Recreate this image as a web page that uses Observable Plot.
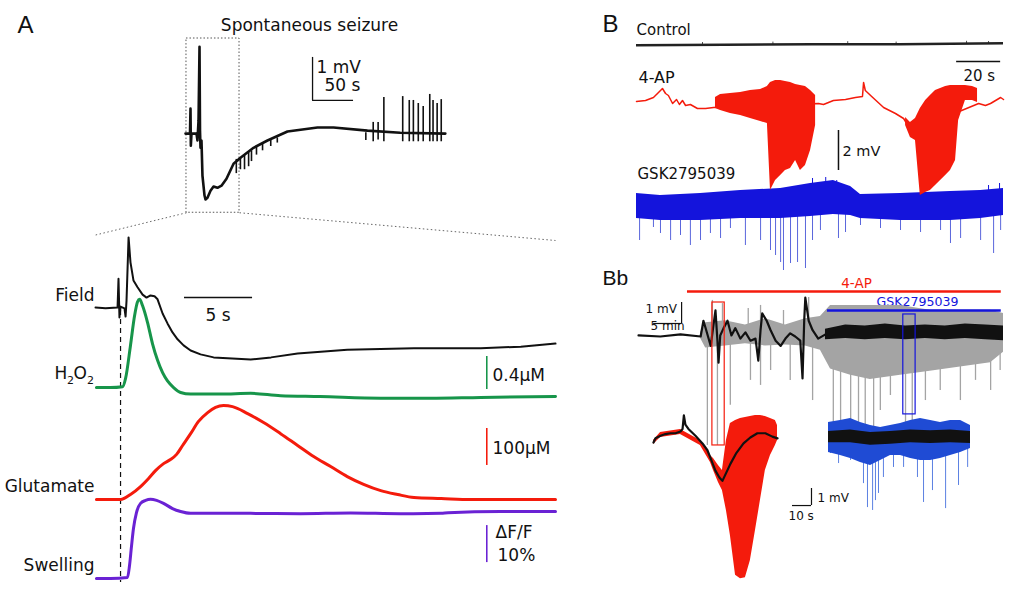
<!DOCTYPE html>
<html><head><meta charset="utf-8">
<script src="https://cdn.jsdelivr.net/npm/d3@7"></script>
<script src="https://cdn.jsdelivr.net/npm/@observablehq/plot@0.6"></script>
<style>
body{margin:0;background:#fff;}
#fig{position:relative;width:1016px;height:606px;overflow:hidden;background:#fff;}
</style></head><body><div id="fig"></div>
<script>
// ---------------- DATA ----------------
// Panel A, top: spontaneous seizure, [time s, mV]
const seizureTrace = [[0,0],[4.9,0],[5.5,0.02],[6.1,0.58],[6.5,-0.28],[7.3,0],[13.4,0],[14.6,-0.16],[15.9,0.3],[17.1,2.02],[17.7,0.07],[18.3,-0.33],[19.5,-0.16],[20.7,-0.98],[23.2,-1.44],[24.4,-1.53],[26.8,-1.49],[30.5,-1.33],[34.2,-1.23],[39,-1.26],[43.9,-1.21],[50,-1.05],[58.6,-0.70],[67.1,-0.56],[83,-0.33],[100,-0.16],[124.4,0.05],[161,0.14],[180.6,0.14],[222,0.07],[262,0.02],[317,0]];
// spikes [time s, from mV, to mV]
const seizureSpikes = [[62,-0.6,-0.93],[67,-0.56,-0.84],[72,-0.5,-0.84],[77,-0.44,-0.77],[80.5,-0.4,-0.65],[86.6,-0.3,-0.5],[94,-0.23,-0.4],[104,-0.15,-0.3],[112,-0.1,-0.22],[220,-0.16,0.02],[229,-0.19,0.26],[235,-0.15,0.26],[242,-0.19,0.84],[265,-0.19,0.86],[273,-0.19,0.77],[278,-0.19,0.77],[284,-0.19,0.70],[290,-0.19,0.63],[298,-0.19,0.91],[302,-0.19,0.77],[307,-0.19,0.70],[312,-0.19,0.79]];
const zoomWindow = {t0: 1.2, t1: 65.9, v0: -1.84, v1: 2.21};

// Panel A, expanded: [time s, value]
const fieldTrace = [[0,0],[0.74,-0.02],[1.62,0],[1.69,0.67],[1.76,-0.23],[1.84,0.02],[2.13,-0.02],[2.21,-0.21],[2.28,0.16],[2.43,1.63],[2.57,1.05],[2.79,0.63],[3.09,0.47],[3.46,0.30],[3.75,0.23],[4.04,0.28],[4.34,0.26],[4.56,0.19],[4.93,-0.14],[5.29,-0.37],[5.66,-0.58],[6.03,-0.74],[6.47,-0.88],[6.99,-1.0],[7.72,-1.09],[8.68,-1.16],[11.4,-1.21],[12.9,-1.16],[14.85,-1.07],[18.5,-0.98],[23.4,-0.95],[28.3,-0.95],[31.25,-0.91],[33.8,-0.84]]; // mV
const h2o2Trace = [[0.07,0],[1.1,0],[1.99,0.01],[2.21,0.11],[2.57,0.51],[2.87,0.87],[3.09,1.04],[3.24,1.07],[3.46,0.99],[3.82,0.79],[4.19,0.53],[4.56,0.33],[4.93,0.18],[5.29,0.08],[5.74,0],[6.25,-0.06],[6.99,-0.08],[9.19,-0.08],[11.4,-0.07],[13.6,-0.10],[16.5,-0.11],[20.96,-0.13],[24.6,-0.13],[28.3,-0.12],[33.8,-0.11]]; // µM
const glutTrace = [[0.07,0],[1.84,0],[2.57,13.5],[3.31,35],[3.9,57],[4.41,78],[5.0,97],[5.51,108],[5.96,122],[6.4,146],[6.99,178],[7.57,211],[8.24,235],[8.82,249],[9.41,254],[10.07,251],[11.18,232],[12.35,208],[13.6,178],[14.85,146],[16.03,116],[17.28,89],[18.5,62],[19.7,41],[20.96,24],[22.2,13.5],[23.4,5.4],[25.4,2.7],[27.6,0],[33.8,0]]; // µM
const swellTrace = [[0.07,0],[1.1,0],[2.35,0.27],[2.5,3.5],[2.65,8.9],[2.79,13.5],[3.01,17.8],[3.31,20.3],[3.68,21.1],[4.04,21.4],[4.49,21.1],[5.0,20.3],[5.66,18.9],[6.25,18.1],[6.99,17.6],[11.4,17.6],[15.07,17.5],[18.75,17.7],[22.4,17.5],[25.4,17.6],[25.9,17.8],[29.8,18.1],[33.8,18.1]]; // % ΔF/F
const seizureOnset = [1.84];

// Panel B: [time s, mV]
const controlBand = [[0,0,-0.12],[40,0.02,-0.1],[80,0.05,-0.07],[120,0.05,-0.07],[166.8,0.1,-0.02]];
const controlSpikes = [[30,0.1],[62,0.12],[96,0.14],[118,0.12],[150,0.16],[160,0.15]];
const fourAPTrace = [[0,0.1],[4.1,0.15],[7.7,0.3],[10,0.55],[11.8,0.75],[13.2,0.5],[14.5,0.4],[16.4,0],[18.2,0.2],[19.5,-0.05],[20.9,0.15],[22.3,-0.1],[24.5,-0.05],[27.7,-0.25],[31.4,-0.25],[35,-0.2],[82.7,0],[85,-0.05],[89.5,0.15],[95,0.2],[99.5,0.3],[102.7,0.35],[103.2,1.05],[104,0.65],[106.4,0.4],[112.3,-0.2],[117.7,-0.5],[121.4,-0.75],[124.5,-1.3],[126.8,-1.3],[155.5,0],[158.6,-0.1],[160.9,0],[163.2,0.15],[165.5,0.3],[166.8,0.2]];
const fourAPBurst1 = [[35.9,0.3,-0.25],[38.2,0.45,-0.35],[42.7,0.5,-0.5],[47.3,0.55,-0.6],[51.8,0.65,-0.75],[56.4,0.7,-0.9],[59.5,0.85,-1.0],[60.9,1.05,-4.35],[63.2,1.15,-3.85],[65.5,1.15,-3.6],[67.7,1.1,-3.35],[70,1.05,-3.25],[72.3,0.95,-2.85],[74.5,0.9,-3.35],[76.8,0.85,-3.1],[79.1,0.65,-2.35],[81.4,0.4,-1.1]];
const fourAPBurst2 = [[122.3,-0.7,-1.1],[124.5,-0.95,-1.7],[126.8,-0.75,-1.85],[129,-0.25,-4.6],[131.4,0.15,-4.45],[133.6,0.4,-4.35],[135.9,0.65,-4.1],[138.2,0.75,-3.85],[140.5,0.85,-3.6],[142.7,0.9,-3.35],[145,0.9,-2.85],[146.4,0.9,-0.85],[149.5,0.9,0.15],[152.7,0.85,0.15],[155,0.75,0.05]];
const gskBand = [[0,0.7,-0.55],[10.9,0.6,-0.65],[29.1,0.7,-0.65],[47.3,0.85,-0.55],[65.5,0.95,-0.55],[79.1,1.2,-0.45],[89.5,1.35,-0.35],[97.3,1.05,-0.4],[101.8,0.65,-0.55],[120,0.7,-0.65],[142.7,0.8,-0.65],[156.4,0.85,-0.55],[166.8,0.95,-0.4]];
const gskDownSpikes = [[1.4,-1.65],[7.7,-1.0],[10.9,-1.3],[15.5,-1.65],[20,-1.4],[24.5,-1.9],[29.1,-1.65],[33.6,-1.3],[38.2,-1.55],[42.7,-1.05],[49.5,-1.9],[56.4,-1.65],[60.9,-2.15],[63.2,-2.4],[65.5,-2.75],[66.8,-3.15],[70,-2.8],[73.2,-2.75],[76.8,-3.05],[80,-1.65],[83.6,-1.15],[91.8,-1.55],[95,-1.25],[101.8,-0.9],[110.9,-1.05],[120,-1.15],[129.1,-1.25],[138.2,-1.15],[142.7,-1.8],[147.3,-1.55],[156.4,-1.65],[162.3,-2.3],[165.5,-1.15]];
const gskUpSpikes = [[80,1.45],[86,1.5],[91,1.35],[160,1.1],[165,1.2]];

// Panel Bb: [time min, mV]
const bbTrace = [[0,0],[3.9,-0.05],[7.5,0.05],[11.1,-0.05],[11.6,0.7],[12.1,0.25],[12.9,-0.5],[13.4,0.5],[13.75,1.2],[14.1,-0.25],[14.3,-1.3],[14.6,0],[15.2,0.35],[15.9,0.7],[16.6,0],[17.3,0.35],[18.2,-0.15],[19.1,0.15],[20,-0.25],[20.9,-0.15],[21.4,-1.2],[21.8,0.25],[22.1,1.05],[22.9,0.7],[23.6,0.25],[24.5,-0.25],[25.4,-0.5],[26.25,-0.15],[27.1,0.1],[28,-0.05],[28.9,-0.25],[29.3,-2.05],[29.6,0.7],[29.8,1.8],[30.4,0.7],[31.1,0.25],[32.1,-0.15],[33.4,0.05]];
const bbBand = [[33.4,0.3,-0.2],[37,0.5,-0.15],[40.5,0.45,-0.2],[44.1,0.55,-0.15],[47.7,0.45,-0.2],[51.25,0.5,-0.15],[54.8,0.45,-0.2],[58.4,0.55,-0.15],[62,0.5,-0.2],[65.2,0.45,-0.25]];
const bbGrayBand = [[11.1,0.14,-0.14],[12,0.6,-0.6],[15.5,0.7,-0.5],[19.1,0.5,-0.4],[22.7,0.8,-0.5],[26.25,0.5,-0.45],[29.8,0.8,-0.5],[32.5,0.9,-0.7],[34.3,1.43,-1.6],[37.9,1.43,-1.9],[41.4,1.43,-2.1],[46.8,1.43,-1.9],[52.1,1.2,-1.7],[57.5,1.2,-1.5],[62.9,1.2,-1.3],[65.2,1.05,-0.8]];
const bbGrayDown = [[12.3,-5.24],[14.1,-5.24],[16.4,-3.33],[20,-2.14],[21.8,-2.38],[23.6,-1.67],[27.1,-2.14],[31.1,-3.1],[34.8,-5.0],[36.1,-4.52],[37.9,-4.05],[39.3,-5.24],[40.5,-4.52],[42,-5.0],[43.2,-3.57],[45,-2.86],[47.7,-5.24],[48.9,-5.0],[51.25,-3.1],[53.9,-2.62],[57.5,-3.1],[60.2,-2.14],[62.9,-2.62],[64.6,-1.67]];
const bbGrayUp = [[13.2,1.67],[15,1.52],[19.6,1.29],[21.8,1.43],[25.9,1.19],[30.4,1.81]];
const bbDrugs = [{name:"4-AP", start:8.75, end:64.8, level:2.1}, {name:"GSK2795039", start:33.75, end:64.8, level:1.19}];
const bbWindows = [{drug:"4-AP", t0:13.2, t1:15.4, v0:-5.24, v1:1.57}, {drug:"GSK2795039", t0:47.3, t1:49.5, v0:-3.76, v1:1.0}];

// Bb insets: [time s, mV]
const redInsetBand = [[0,-0.18,-0.41],[3.7,0.29,0],[14.2,0.47,0.18],[24.7,-0.18,-0.47],[30,-1.06,-1.47],[31.6,-1.24,-1.94],[34.2,-1.65,-2.65],[36.3,-1.94,-3.12],[38.4,-0.18,-4.29],[40.5,0.82,-5.76],[43.2,1.0,-8.1],[45.8,1.12,-8.3],[48.4,1.18,-8.24],[51,1.24,-7.24],[53.7,1.29,-5.47],[56.3,1.29,-3.71],[58.9,1.24,-1.94],[61.6,1.12,-1.06],[64.2,1.0,-0.47],[65.3,0.71,-0.18]];
const redInsetMean = [[0,-0.3],[1.05,-0.05],[3.7,0.1],[6.3,0.2],[8.9,0.25],[11.6,0.25],[14.2,0.35],[15.3,0.5],[16,1.3],[16.8,0.75],[18.4,0.5],[22.1,0.1],[25.8,-0.35],[28.4,-0.75],[30.5,-1.35],[32.6,-1.95],[34.7,-2.35],[36.3,-2.55],[38.4,-2.05],[40.5,-1.55],[43.7,-0.9],[47.4,-0.35],[51,0],[54.7,0.25],[58.9,0.25],[62.6,0.05],[65.3,-0.05]];
const blueInsetBand = [[0,0.88,-0.88],[6.3,1.0,-1.06],[11.6,1.12,-1.24],[16.8,0.88,-1.47],[22.1,0.71,-1.65],[27.4,0.59,-1.35],[32.6,0.71,-1.06],[37.9,0.82,-1.06],[43.2,1.0,-1.24],[48.4,1.12,-1.35],[53.7,1.0,-1.35],[58.9,0.88,-1.24],[64.2,1.0,-1.06],[69.5,1.0,-0.88],[74.7,0.71,-0.65]];
const blueInsetSpikes = [[1.05,-0.94],[5.3,-1.53],[11.6,-1.35],[18.4,-2.71],[20.5,-4.12],[23.2,-4.29],[24.7,-3.71],[26.3,-3.29],[28.9,-2.35],[34.2,-1.76],[39.5,-1.76],[46.8,-2.35],[50,-3.82],[54.7,-3.12],[61.6,-4.18],[68.4,-2.82],[73.2,-1.76]];
const blueInsetMean = [[0,0.35,-0.3],[11.6,0.45,-0.3],[22.1,0.3,-0.45],[32.6,0.35,-0.4],[43.2,0.45,-0.3],[53.7,0.4,-0.35],[64.2,0.45,-0.3],[74.7,0.35,-0.35]];

// scale bars, in each trace's units
const scaleTop = {t: 155, dt: 50, v: 0.77, dv: 1};
const scaleField = {t: 6.54, dt: 5, v: 0.23};
const scaleH2O2 = {t: 28.75, v: -0.024, dv: 0.4};
const scaleGlut = {t: 28.75, v: 92, dv: 100};
const scaleSwell = {t: 28.75, v: 4.3, dv: 10};
const scaleB = {t20: 145.5, dt: 20, v20: 2.1, t2: 91.8, v2: -3.35, dv: 2};
const scaleBb = {t: 2.7, dt: 5, v: 0.57, dv: 1};
const scaleInset = {t: 73.2, dt: 10, v: -4.0, dv: 1};

// ---------------- STYLE / LAYOUT ----------------
const W = 1016, H = 606;
const FONT = "DejaVu Sans, Liberation Sans, sans-serif";
const NARROW = "Liberation Sans Narrow, Liberation Sans, Arial, sans-serif";
const INK = "#111", RED = "#f41b0c", GREEN = "#17954a", PURPLE = "#6a22d4",
      BLUE = "#1414dc", BLUE_L = "#5a66dc", IBLUE = "#1f4bd4", IBLUE_L = "#5b80e2", GRAY = "#a4a4a4";

const fig = document.getElementById("fig");
function panel(L, marks) {
  const p = Plot.plot({
    width: L.w, height: L.h, margin: 0,
    x: {domain: L.x, axis: null}, y: {domain: L.y, axis: null},
    style: `position:absolute;left:${L.left}px;top:${L.top}px;background:transparent;overflow:visible;max-width:none;`,
    marks
  });
  fig.appendChild(p);
  return p;
}
const X = d => d[0], Y = d => d[1], Y2 = d => d[2];
const line = (data, o) => Plot.line(data, {x: X, y: Y, strokeLinejoin: "round", ...o});
const band = (data, o) => Plot.areaY(data, {x: X, y1: Y2, y2: Y, ...o});
const spikes = (data, base, o) => Plot.ruleX(data, {x: X, y1: () => base, y2: Y, ...o});
const vbar = (t, v0, v1, o) => Plot.ruleX([{t, v0, v1}], {x: "t", y1: "v0", y2: "v1", ...o});
const hbar = (t0, t1, v, o) => Plot.ruleY([{t0, t1, v}], {y: "v", x1: "t0", x2: "t1", ...o});

// --- A top
const LT = {left: 180, top: 35, w: 270, h: 185, x: [-6.1, 323.3], y: [-2.02, 2.28]};
const topPlot = panel(LT, [
  Plot.rect([zoomWindow], {x1: "t0", x2: "t1", y1: "v0", y2: "v1", fill: "none", stroke: "#555", strokeWidth: 1, strokeDasharray: "1.5,2"}),
  Plot.ruleX(seizureSpikes, {x: X, y1: Y, y2: Y2, stroke: INK, strokeWidth: 1.6}),
  line(seizureTrace, {stroke: INK, strokeWidth: 2.6}),
  vbar(scaleTop.t, scaleTop.v, scaleTop.v + scaleTop.dv, {stroke: INK, strokeWidth: 1.3}),
  hbar(scaleTop.t, scaleTop.t + scaleTop.dt, scaleTop.v, {stroke: INK, strokeWidth: 1.3})
]);

// --- A expanded
const ZX = [0, 33.8];
const LF = {left: 95, top: 230, w: 460, h: 140, x: ZX, y: [-1.465, 1.79]};
const LH = {left: 95, top: 290, w: 460, h: 115, x: ZX, y: [-0.218, 1.176]};
const LG = {left: 95, top: 400, w: 460, h: 105, x: ZX, y: [-16.2, 267.6]};
const LS = {left: 95, top: 495, w: 460, h: 90, x: ZX, y: [-1.89, 22.43]};
const LO = {left: 95, top: 310, w: 460, h: 272, x: ZX, y: [0, 1]};
panel(LO, [Plot.ruleX(seizureOnset, {stroke: INK, strokeWidth: 1.2, strokeDasharray: "5,4"})]);
const fieldPlot = panel(LF, [
  line(fieldTrace, {stroke: INK, strokeWidth: 2}),
  hbar(scaleField.t, scaleField.t + scaleField.dt, scaleField.v, {stroke: INK, strokeWidth: 1.5})
]);
panel(LH, [
  line(h2o2Trace, {stroke: GREEN, strokeWidth: 3, curve: "monotone-x"}),
  vbar(scaleH2O2.t, scaleH2O2.v, scaleH2O2.v + scaleH2O2.dv, {stroke: GREEN, strokeWidth: 1.6})
]);
panel(LG, [
  line(glutTrace, {stroke: RED, strokeWidth: 3, curve: "monotone-x"}),
  vbar(scaleGlut.t, scaleGlut.v, scaleGlut.v + scaleGlut.dv, {stroke: RED, strokeWidth: 1.6})
]);
panel(LS, [
  line(swellTrace, {stroke: PURPLE, strokeWidth: 3, curve: "monotone-x"}),
  vbar(scaleSwell.t, scaleSwell.v, scaleSwell.v + scaleSwell.dv, {stroke: PURPLE, strokeWidth: 1.6})
]);

// --- B
const BX = [0, 166.8];
const LC = {left: 636, top: 34, w: 367, h: 20, x: BX, y: [-0.5, 0.5]};
const LA = {left: 636, top: 55, w: 367, h: 145, x: BX, y: [-4.85, 2.4]};
const LK = {left: 636, top: 175, w: 367, h: 100, x: BX, y: [-3.4, 1.6]};
panel(LC, [
  band(controlBand, {fill: "#222"}),
  spikes(controlSpikes, 0, {stroke: "#222", strokeWidth: 0.8})
]);
panel(LK, [
  spikes(gskDownSpikes, 0, {stroke: BLUE_L, strokeWidth: 1}),
  spikes(gskUpSpikes, 0, {stroke: BLUE, strokeWidth: 1}),
  band(gskBand, {fill: BLUE})
]);
panel(LA, [
  line(fourAPTrace, {stroke: RED, strokeWidth: 1.5}),
  band(fourAPBurst1, {fill: RED}),
  band(fourAPBurst2, {fill: RED}),
  hbar(scaleB.t20, scaleB.t20 + scaleB.dt, scaleB.v20, {stroke: INK, strokeWidth: 1.5}),
  vbar(scaleB.t2, scaleB.v2, scaleB.v2 + scaleB.dv, {stroke: INK, strokeWidth: 1.5})
]);

// --- Bb
const LB = {left: 638, top: 285, w: 365, h: 165, x: [0, 65.2], y: [-5.48, 2.38]};
panel(LB, [
  spikes(bbGrayDown, 0, {stroke: GRAY, strokeWidth: 1.3}),
  spikes(bbGrayUp, 0, {stroke: GRAY, strokeWidth: 1.3}),
  band(bbGrayBand, {fill: GRAY}),
  line(bbTrace, {stroke: INK, strokeWidth: 2.2}),
  band(bbBand, {fill: INK}),
  Plot.ruleY(bbDrugs, {y: "level", x1: "start", x2: "end", stroke: (d) => d.name === "4-AP" ? RED : BLUE, strokeWidth: 2.5}),
  Plot.rect(bbWindows, {x1: "t0", x2: "t1", y1: "v0", y2: "v1", fill: "none", stroke: (d) => d.drug === "4-AP" ? RED : BLUE, strokeWidth: 1.2}),
  vbar(scaleBb.t + scaleBb.dt, scaleBb.v, scaleBb.v + scaleBb.dv, {stroke: INK, strokeWidth: 1.2}),
  hbar(scaleBb.t, scaleBb.t + scaleBb.dt, scaleBb.v, {stroke: INK, strokeWidth: 1.2})
]);
const LR = {left: 653, top: 405, w: 124, h: 180, x: [0, 65.3], y: [-8.7, 1.88]};
panel(LR, [
  band(redInsetBand, {fill: RED}),
  line(redInsetMean, {stroke: INK, strokeWidth: 2.2}),
  vbar(scaleInset.t + scaleInset.dt, scaleInset.v, scaleInset.v + scaleInset.dv, {stroke: INK, strokeWidth: 1.2}),
  hbar(scaleInset.t, scaleInset.t + scaleInset.dt, scaleInset.v, {stroke: INK, strokeWidth: 1.2})
]);
const LI = {left: 828, top: 410, w: 142, h: 110, x: [0, 74.7], y: [-4.88, 1.59]};
panel(LI, [
  spikes(blueInsetSpikes, 0, {stroke: IBLUE_L, strokeWidth: 1}),
  band(blueInsetBand, {fill: IBLUE}),
  band(blueInsetMean, {fill: INK})
]);

// --- base layer: labels and zoom guides (pixel space)
const sx = topPlot.scale("x"), sy = topPlot.scale("y");
const fx = fieldPlot.scale("x");
const guides = [
  {x1: LT.left + sx.apply(zoomWindow.t0), y1: LT.top + sy.apply(zoomWindow.v0), x2: LF.left + fx.apply(ZX[0]) - 2, y2: 235},
  {x1: LT.left + sx.apply(zoomWindow.t1), y1: LT.top + sy.apply(zoomWindow.v0), x2: LF.left + fx.apply(ZX[1]), y2: 240}
];
const labels = [
  {text: "A", x: 17, y: 32, size: 24, font: NARROW},
  {text: "Spontaneous seizure", x: 309, y: 30, size: 17, anchor: "middle"},
  {text: "1 mV", x: 316, y: 72, size: 17},
  {text: "50 s", x: 324, y: 90, size: 17},
  {text: "Field", x: 94, y: 300, size: 17, anchor: "end"},
  {text: "H", x: 54, y: 378, size: 17},
  {text: "2", x: 66.5, y: 383, size: 11},
  {text: "O", x: 73, y: 378, size: 17},
  {text: "2", x: 86.5, y: 383, size: 11},
  {text: "Glutamate", x: 94, y: 491, size: 17, anchor: "end"},
  {text: "Swelling", x: 94, y: 570, size: 17, anchor: "end"},
  {text: "5 s", x: 205, y: 320, size: 17},
  {text: "0.4μM", x: 492, y: 380, size: 17},
  {text: "100μM", x: 492, y: 453, size: 17},
  {text: "ΔF/F", x: 495, y: 537, size: 17},
  {text: "10%", x: 497, y: 560, size: 17},
  {text: "B", x: 602, y: 31, size: 24, font: NARROW},
  {text: "Control", x: 636, y: 34, size: 15},
  {text: "4-AP", x: 638, y: 82, size: 16},
  {text: "20 s", x: 963, y: 80, size: 15},
  {text: "2 mV", x: 842, y: 155, size: 14.5},
  {text: "GSK2795039", x: 637, y: 178, size: 15},
  {text: "Bb", x: 602, y: 284, size: 21, font: NARROW},
  {text: "4-AP", x: 856, y: 287, size: 13.5, anchor: "middle", color: RED},
  {text: "GSK2795039", x: 917, y: 305, size: 12.6, anchor: "middle", color: BLUE},
  {text: "1 mV", x: 645, y: 312, size: 12},
  {text: "5 min", x: 650, y: 329, size: 12},
  {text: "1 mV", x: 817, y: 501, size: 12},
  {text: "10 s", x: 788, y: 519, size: 12}
];
const base = Plot.plot({
  width: W, height: H, margin: 0,
  x: {domain: [0, W], range: [0, W], axis: null},
  y: {domain: [0, H], range: [0, H], axis: null},
  style: "position:absolute;left:0;top:0;background:transparent;overflow:visible;max-width:none;",
  marks: [
    Plot.link(guides, {x1: "x1", y1: "y1", x2: "x2", y2: "y2", stroke: "#666", strokeWidth: 1, strokeDasharray: "1.5,2.5"}),
    ...labels.map(l => Plot.text([l], {x: "x", y: "y", text: "text", fontSize: l.size, fontFamily: l.font || FONT,
      textAnchor: l.anchor || "start", lineAnchor: "bottom", fill: l.color || INK}))
  ]
});
fig.prepend(base);
</script></body></html>
